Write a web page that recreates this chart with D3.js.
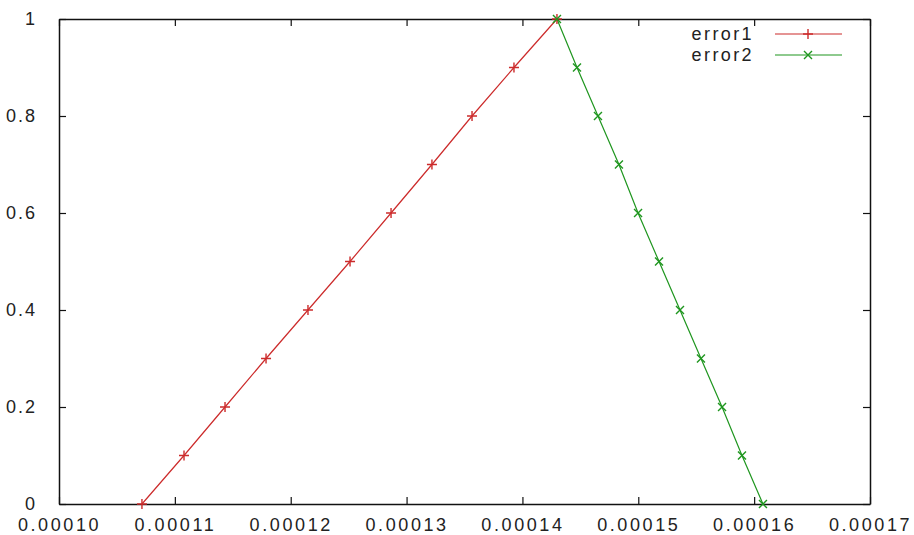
<!DOCTYPE html>
<html>
<head>
<meta charset="utf-8">
<script src="https://cdn.jsdelivr.net/npm/d3@7"></script>
<style>
  body { margin: 0; background: #fff; }
  text { font-family: "Liberation Sans", Arial, sans-serif; fill: #222; }
</style>
</head>
<body>
<div id="chart"></div>
<script>
// values
const error1X = [0.00010716, 0.00011079, 0.00011433, 0.00011787, 0.00012149, 0.00012512,
                 0.00012866, 0.00013219, 0.00013565, 0.00013927, 0.00014298];
const error1Y = [0, 0.1, 0.2, 0.3, 0.4, 0.5, 0.6, 0.7, 0.8, 0.9, 1];
const error2X = [0.00014298, 0.00014471, 0.00014652, 0.00014833, 0.00014998, 0.00015179,
                 0.00015360, 0.00015541, 0.00015723, 0.00015895, 0.00016076];
const error2Y = [1, 0.9, 0.8, 0.7, 0.6, 0.5, 0.4, 0.3, 0.2, 0.1, 0];
const xTicks = [0.00010, 0.00011, 0.00012, 0.00013, 0.00014, 0.00015, 0.00016, 0.00017];
const yTicks = [0, 0.2, 0.4, 0.6, 0.8, 1];
const seriesNames = ["error1", "error2"];

const width = 914, height = 535;
const margin = {top: 19, right: 44, bottom: 31, left: 59};

const svg = d3.select("#chart")
  .append("svg")
  .attr("width", width)
  .attr("height", height);

const x = d3.scaleLinear().domain([0.00010, 0.00017]).range([margin.left, width - margin.right]);
const y = d3.scaleLinear().domain([0, 1]).range([height - margin.bottom, margin.top]);

const fontSize = 18, spacing = "2px";

// axes, ticks point inward on all four sides
const bottom = svg.append("g")
  .attr("transform", `translate(0,${y(0)})`)
  .call(d3.axisBottom(x).tickValues(xTicks).tickFormat(d3.format(".5f"))
    .tickSizeInner(-7).tickSizeOuter(0).tickPadding(14));
svg.append("g")
  .attr("transform", `translate(0,${y(1)})`)
  .call(d3.axisTop(x).tickValues(xTicks).tickFormat("")
    .tickSizeInner(-7).tickSizeOuter(0));
const left = svg.append("g")
  .attr("transform", `translate(${x(0.0001)},0)`)
  .call(d3.axisLeft(y).tickValues(yTicks).tickFormat(d => (d === 0 || d === 1) ? d : d.toFixed(1))
    .tickSizeInner(-7).tickSizeOuter(0).tickPadding(22));
svg.append("g")
  .attr("transform", `translate(${x(0.00017)},0)`)
  .call(d3.axisRight(y).tickValues(yTicks).tickFormat("")
    .tickSizeInner(-7).tickSizeOuter(0));

svg.selectAll(".domain").attr("stroke", "#111").attr("stroke-width", 1.5);
svg.selectAll(".tick line").attr("stroke", "#111").attr("stroke-width", 1.2);
svg.selectAll(".tick text")
  .attr("font-size", fontSize)
  .attr("font-family", "Liberation Sans, Arial, sans-serif")
  .attr("fill", "#2a2a2a")
  .style("letter-spacing", spacing);
bottom.selectAll(".tick text").style("letter-spacing", "2.6px");

const colors = ["#cc2b2b", "#1f961f"];
const series = [
  error1X.map((v, i) => ({x: v, y: error1Y[i]})),
  error2X.map((v, i) => ({x: v, y: error2Y[i]}))
];

const line = d3.line().x(d => x(d.x)).y(d => y(d.y));

series.forEach((data, k) => {
  svg.append("path")
    .datum(data)
    .attr("fill", "none")
    .attr("stroke", colors[k])
    .attr("stroke-width", 1.2)
    .attr("d", line);
});

// point markers: plus for error1, cross for error2
function marker(g, k, cx, cy) {
  const s = k === 0 ? 5 : 4;
  const p = k === 0
    ? `M${cx - s},${cy}H${cx + s}M${cx},${cy - s}V${cy + s}`
    : `M${cx - s},${cy - s}L${cx + s},${cy + s}M${cx - s},${cy + s}L${cx + s},${cy - s}`;
  g.append("path").attr("d", p).attr("stroke", colors[k]).attr("stroke-width", 1.4).attr("fill", "none");
}

series.forEach((data, k) => {
  const g = svg.append("g");
  data.forEach(d => marker(g, k, x(d.x), y(d.y)));
});

// legend
const legend = svg.append("g");
seriesNames.forEach((name, k) => {
  const ly = 34 + k * 21;
  legend.append("text")
    .attr("x", 754)
    .attr("y", ly)
    .attr("dy", "0.35em")
    .attr("text-anchor", "end")
    .attr("font-size", fontSize)
    .attr("fill", "#2a2a2a")
    .style("letter-spacing", "2.4px")
    .text(name);
  legend.append("line")
    .attr("x1", 775).attr("x2", 842)
    .attr("y1", ly).attr("y2", ly)
    .attr("stroke", colors[k]).attr("stroke-width", 1.2);
  marker(legend, k, 808, ly);
});
</script>
</body>
</html>
